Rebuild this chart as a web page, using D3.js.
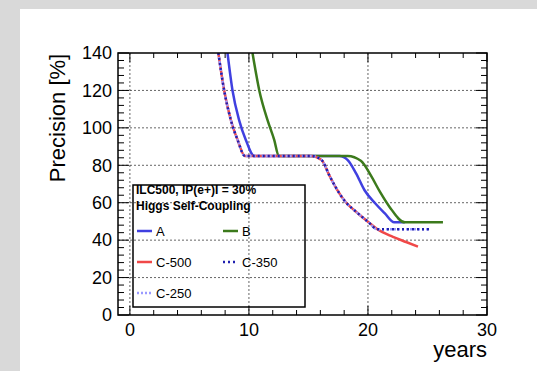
<!DOCTYPE html>
<html>
<head>
<meta charset="utf-8">
<script src="https://cdn.jsdelivr.net/npm/d3@7"></script>
<style>
  body { margin: 0; background: #d9d9d9; }
  svg { display: block; font-family: "Liberation Sans", Arial, sans-serif; }
</style>
</head>
<body>
<div id="chart"></div>
<script>
// values (years, precision %)
const xA = [8.2, 8.62, 9.18, 9.74, 10.45, 17.6, 18.3, 19.0, 19.7, 20.6, 21.4, 22.2, 23.1];
const yA = [140, 120, 104, 93.5, 85, 85, 82.8, 75.7, 66.8, 59.7, 54.4, 49.5, 49.5];
const xB = [10.3, 10.87, 11.57, 12.13, 12.5, 18.3, 19.4, 20.3, 21.0, 21.8, 23.1, 26.3];
const yB = [140, 120, 104, 93.5, 85, 85, 82.4, 73.9, 65.9, 57.9, 49.5, 49.5];
const xC500 = [7.43, 7.92, 8.48, 9.05, 9.66, 15.2, 16.1, 16.8, 17.4, 18.1, 19.0, 20.0, 20.8, 22.1, 23.2, 24.2];
const yC500 = [140, 120, 104.2, 93.5, 85, 85, 82.8, 74, 67, 60.5, 55.2, 49.8, 45.8, 41.8, 39, 36.5];
const xC350 = [7.43, 7.92, 8.48, 9.05, 9.66, 15.2, 16.1, 16.8, 17.4, 18.1, 19.0, 20.0, 20.8, 25.2];
const yC350 = [140, 120, 104.2, 93.5, 85, 85, 82.8, 74, 67, 60.5, 55.2, 49.8, 45.8, 45.8];
const xC250 = [7.43, 7.92, 8.48, 9.05, 9.66, 15.2, 16.1, 16.8, 17.4, 18.1, 19.0, 20.0, 20.8, 25.2];
const yC250 = [140, 120, 104.2, 93.5, 85, 85, 82.8, 74, 67, 60.5, 55.2, 49.8, 45.8, 45.8];

const xTicks = [0, 10, 20, 30];
const yTicks = [0, 20, 40, 60, 80, 100, 120, 140];

const W = 537, H = 371;
const margin = {top: 53, right: 50, bottom: 56, left: 118};

const series = [
  {name: "A",     xs: xA,    ys: yA,    color: "#4040e0", width: 2.5, dash: null},
  {name: "B",     xs: xB,    ys: yB,    color: "#3c7a1c", width: 2.5, dash: null},
  {name: "C-500", xs: xC500, ys: yC500, color: "#f04848", width: 2.5, dash: null},
  {name: "C-250", xs: xC250, ys: yC250, color: "#9a9aff", width: 2.5, dash: "2,2"},
  {name: "C-350", xs: xC350, ys: yC350, color: "#2020b0", width: 2.5, dash: "2,3"}
];

const svg = d3.select("#chart").append("svg")
  .attr("width", W).attr("height", H);

svg.append("rect").attr("width", W).attr("height", H).attr("fill", "#d9d9d9");
svg.append("rect").attr("x", 20).attr("y", 9).attr("width", W - 20).attr("height", H - 9).attr("fill", "#fff");

const x = d3.scaleLinear().domain([-1, 30]).range([margin.left, W - margin.right]);
const y = d3.scaleLinear().domain([0, 140]).range([H - margin.bottom, margin.top]);

const x0 = margin.left, x1 = W - margin.right, y0 = H - margin.bottom, y1 = margin.top;

// grid
const grid = svg.append("g").attr("stroke", "#222").attr("stroke-width", 0.7).attr("stroke-dasharray", "2,2");
grid.selectAll(".gx").data([0, 10, 20]).join("line")
  .attr("x1", d => x(d)).attr("x2", d => x(d)).attr("y1", y0).attr("y2", y1);
grid.selectAll(".gy").data([20, 40, 60, 80, 100, 120]).join("line")
  .attr("y1", d => y(d)).attr("y2", d => y(d)).attr("x1", x0).attr("x2", x1);

// ticks (inside, all four sides)
const tk = svg.append("g").attr("stroke", "#000").attr("stroke-width", 1);
const xMinor = d3.range(0, 31, 2);
const yMinor = d3.range(0, 141, 4);
tk.selectAll(".xb").data(xMinor).join("line")
  .attr("x1", d => x(d)).attr("x2", d => x(d))
  .attr("y1", y0).attr("y2", d => y0 - (d % 10 === 0 ? 9 : 5));
tk.selectAll(".xt").data(xMinor).join("line")
  .attr("x1", d => x(d)).attr("x2", d => x(d))
  .attr("y1", y1).attr("y2", d => y1 + (d % 10 === 0 ? 9 : 5));
tk.selectAll(".yl").data(yMinor).join("line")
  .attr("y1", d => y(d)).attr("y2", d => y(d))
  .attr("x1", x0).attr("x2", d => x0 + (d % 20 === 0 ? 11 : 6));
tk.selectAll(".yr").data(yMinor).join("line")
  .attr("y1", d => y(d)).attr("y2", d => y(d))
  .attr("x1", x1).attr("x2", d => x1 - (d % 20 === 0 ? 11 : 6));

// curves
const line = d3.line().x(d => x(d[0])).y(d => y(d[1])).curve(d3.curveMonotoneX);
svg.append("defs").append("clipPath").attr("id", "clip")
  .append("rect").attr("x", x0).attr("y", y1).attr("width", x1 - x0).attr("height", y0 - y1);

svg.append("g").attr("clip-path", "url(#clip)")
  .selectAll("path").data(series).join("path")
    .attr("d", s => line(s.xs.map((v, i) => [v, s.ys[i]])))
    .attr("fill", "none")
    .attr("stroke", s => s.color)
    .attr("stroke-width", s => s.width)
    .attr("stroke-dasharray", s => s.dash)
    .attr("stroke-linejoin", "round");

// frame
svg.append("rect").attr("x", x0).attr("y", y1).attr("width", x1 - x0).attr("height", y0 - y1)
  .attr("fill", "none").attr("stroke", "#000").attr("stroke-width", 1.5);

// tick labels
svg.append("g").selectAll("text").data(xTicks).join("text")
  .attr("x", d => x(d)).attr("y", y0 + 21)
  .attr("text-anchor", "middle").attr("font-size", 18).attr("fill", "#000")
  .text(d => d);
svg.append("g").selectAll("text").data(yTicks).join("text")
  .attr("x", x0 - 6).attr("y", d => y(d)).attr("dy", "0.35em")
  .attr("text-anchor", "end").attr("font-size", 18).attr("fill", "#000")
  .text(d => d);

// axis titles
svg.append("text").attr("x", x1).attr("y", 357)
  .attr("text-anchor", "end").attr("font-size", 22).text("years");
svg.append("text").attr("transform", `translate(65,118) rotate(-90)`)
  .attr("text-anchor", "middle").attr("font-size", 22).text("Precision [%]");

// legend
const lg = svg.append("g").attr("transform", "translate(133,185)");
lg.append("rect").attr("width", 172).attr("height", 122)
  .attr("fill", "none").attr("stroke", "#000").attr("stroke-width", 1.5);
lg.append("text").attr("x", 3).attr("y", 9).attr("font-size", 12).attr("font-weight", "bold")
  .text("ILC500, IP(e+)I = 30%");
lg.append("text").attr("x", 3).attr("y", 25).attr("font-size", 12).attr("font-weight", "bold")
  .text("Higgs Self-Coupling");

const legendOrder = ["A", "B", "C-500", "C-350", "C-250"];
const entries = legendOrder.map(n => series.find(s => s.name === n));
const ent = lg.selectAll(".ent").data(entries).join("g")
  .attr("transform", (d, i) => `translate(${i % 2 === 0 ? 4 : 90},${46 + Math.floor(i / 2) * 31})`);
ent.append("line").attr("x1", 0).attr("x2", 15)
  .attr("stroke", d => d.color).attr("stroke-width", d => d.width)
  .attr("stroke-dasharray", d => d.dash);
ent.append("text").attr("x", 19).attr("dy", "0.35em").attr("font-size", 13).text(d => d.name);
</script>
</body>
</html>
